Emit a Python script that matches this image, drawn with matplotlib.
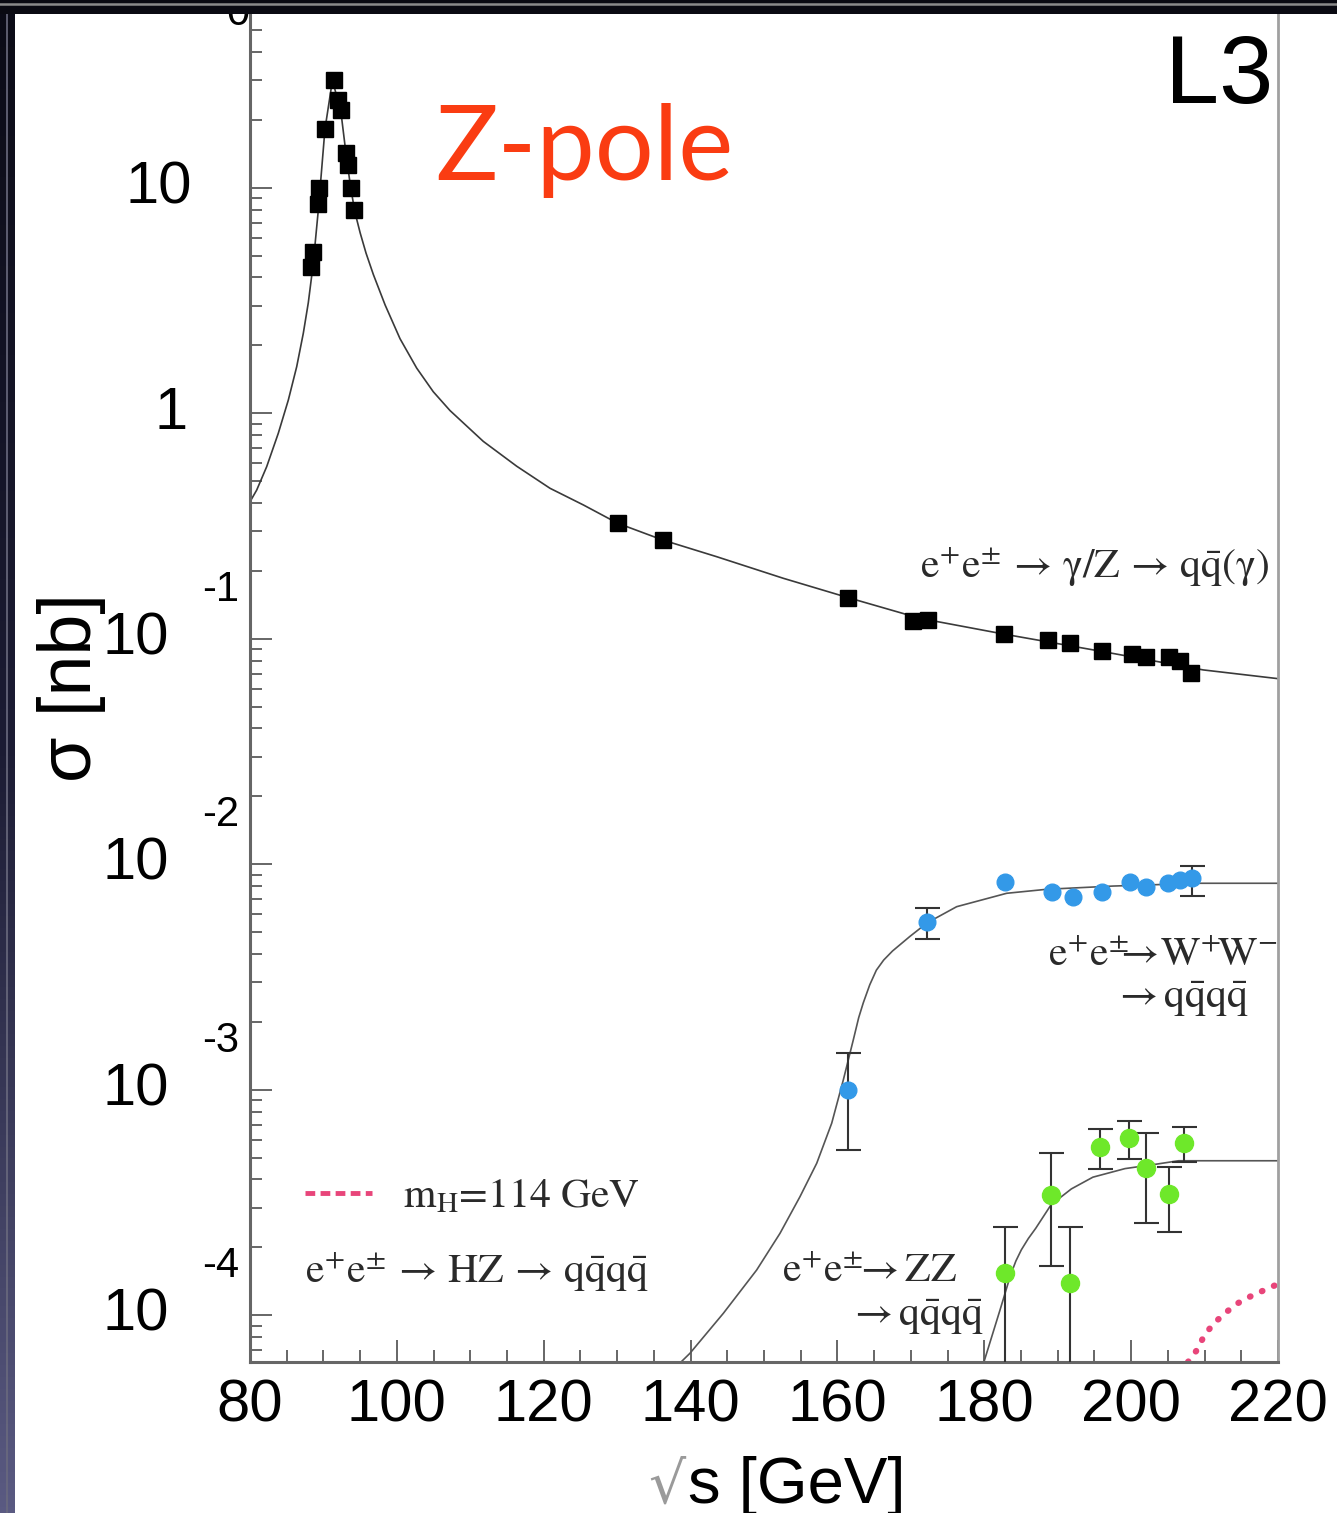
import numpy as np
import matplotlib
matplotlib.use("Agg")
import matplotlib.pyplot as plt
from matplotlib.patches import Rectangle
from matplotlib.lines import Line2D
from matplotlib.ticker import MultipleLocator, LogLocator, NullFormatter
from matplotlib.transforms import offset_copy

plt.rcParams["mathtext.fontset"] = "stix"
plt.rcParams["font.family"] = ["Liberation Sans", "DejaVu Sans"]

# --- data (sqrt(s) in GeV, sigma in nb) ---
# e+e- -> qq(gamma), black squares
qq_E = [88.31, 88.62, 89.30, 89.40, 90.21, 91.48, 91.94, 92.35, 93.07, 93.30, 93.71, 94.20,
        130.08, 136.2, 161.48, 170.33, 172.37, 182.72, 188.72, 191.67, 195.99, 200.07,
        202.02, 205.19, 206.65, 208.11]
qq_sig = [4.46, 5.17, 8.47, 10.0, 18.2, 30.0, 24.5, 22.1, 14.2, 12.6, 10.0, 7.96,
          0.325, 0.274, 0.152, 0.120, 0.121, 0.1046, 0.0987, 0.0954, 0.0882, 0.0853,
          0.0827, 0.0827, 0.0799, 0.0707]

# qq theory curve
qq_curve_E = [80.0, 80.91, 82.27, 83.85, 85.22, 86.36, 87.26, 87.94, 88.6, 89.30, 90.21,
              91.23, 91.94, 92.35, 93.07, 93.71, 94.30, 95.0, 95.8, 96.8, 98.4,
              100.43, 102.70, 104.96, 107.23, 111.77, 116.32, 120.86, 125.39, 130.08,
              136.2, 143.56, 152.63, 161.48, 171.24, 182.82, 196.2, 209.82, 220.0]
qq_curve_sig = [0.405, 0.456, 0.579, 0.814, 1.144, 1.608, 2.262, 3.09, 4.57, 7.94, 18.2,
                30.0, 24.5, 22.1, 14.2, 10.0, 7.76, 6.31, 5.13, 4.12, 3.02,
                2.14, 1.585, 1.245, 1.028, 0.750, 0.582, 0.4645, 0.392, 0.325,
                0.274, 0.231, 0.1853, 0.152, 0.1231, 0.1046, 0.0876, 0.0727, 0.0665]

# e+e- -> WW -> qqqq, blue circles
ww_E = [161.48, 172.24, 182.82, 189.18, 192.04, 195.99, 199.84, 202.02, 205.06, 206.65, 208.24]
ww_sig = [9.97e-4, 5.56e-3, 8.31e-3, 7.55e-3, 7.18e-3, 7.50e-3, 8.36e-3, 7.95e-3, 8.23e-3, 8.51e-3, 8.66e-3]
ww_lo = [5.40e-4, 4.64e-3, 8.31e-3, 7.55e-3, 7.18e-3, 7.50e-3, 8.36e-3, 7.95e-3, 8.23e-3, 8.51e-3, 7.23e-3]
ww_hi = [1.45e-3, 6.37e-3, 8.31e-3, 7.55e-3, 7.18e-3, 7.50e-3, 8.36e-3, 7.95e-3, 8.23e-3, 8.51e-3, 9.82e-3]

ww_curve_E = [138.70, 139.92, 144.46, 149.0, 152.18, 154.90, 157.18, 159.22, 160.80, 162.16,
              162.9, 163.52, 164.4, 165.3, 166.3, 167.5, 169.88, 172.24, 176.24, 183.05,
              188.50, 197.57, 209.37, 220.0]
ww_curve_sig = [6.20e-5, 6.78e-5, 1.019e-4, 1.586e-4, 2.307e-4, 3.354e-4, 4.717e-4, 7.10e-4,
                1.104e-3, 1.662e-3, 2.089e-3, 2.427e-3, 2.917e-3, 3.388e-3, 3.758e-3, 4.121e-3,
                4.786e-3, 5.50e-3, 6.48e-3, 7.43e-3, 7.74e-3, 8.00e-3, 8.23e-3, 8.23e-3]

# e+e- -> ZZ -> qqqq, green circles
zz_E = [182.87, 189.10, 191.73, 195.76, 199.75, 201.98, 205.10, 207.18]
zz_sig = [1.534e-4, 3.41e-4, 1.393e-4, 5.59e-4, 6.09e-4, 4.48e-4, 3.45e-4, 5.82e-4]
zz_lo = [1e-5, 1.658e-4, 1e-5, 4.45e-4, 4.91e-4, 2.57e-4, 2.33e-4, 4.79e-4]
zz_hi = [2.47e-4, 5.23e-4, 2.47e-4, 6.67e-4, 7.29e-4, 6.41e-4, 4.56e-4, 6.85e-4]

zz_curve_E = [179.95, 182.14, 183.60, 184.3, 185.05, 186.0, 187.0, 189.1, 191.86, 194.79,
              199.16, 203.53, 206.46, 220.0]
zz_curve_sig = [6.2e-5, 1.054e-4, 1.514e-4, 1.738e-4, 1.950e-4, 2.188e-4, 2.427e-4, 3.09e-4,
                3.631e-4, 4.093e-4, 4.467e-4, 4.68e-4, 4.84e-4, 4.84e-4]

# HZ, mH = 114 GeV, dotted
hz_curve_E = [207.74, 209.13, 209.86, 211.17, 212.78, 214.33, 216.18, 217.98, 220.0]
hz_curve_sig = [6.2e-5, 7.13e-5, 8.03e-5, 9.14e-5, 1.020e-4, 1.121e-4, 1.208e-4, 1.285e-4, 1.375e-4]

x_ticks = [80, 100, 120, 140, 160, 180, 200, 220]
y_exponents = [1, 0, -1, -2, -3, -4]

W, H = 1337, 1513
fig = plt.figure(figsize=(W / 100, H / 100), dpi=100)
fig.patch.set_facecolor("white")

ax = fig.add_axes([250 / W, (H - 1362) / H, (1278 - 250) / W, (1362 - 14) / H])
ax.set_yscale("log")
ax.set_xlim(80, 220)
ax.set_ylim(6.2e-5, 58.93)

higgs_col = "#e8457a"

# curves
ax.plot(qq_curve_E, qq_curve_sig, color="#3a3a3a", lw=1.2, zorder=2)
ax.plot(ww_curve_E, ww_curve_sig, color="#555555", lw=1.2, zorder=2)
ax.plot(zz_curve_E, zz_curve_sig, color="#555555", lw=1.2, zorder=2)
ax.plot(hz_curve_E, hz_curve_sig, color=higgs_col, lw=4.5,
        linestyle=(0, (0.1, 2.0)), dash_capstyle="round", zorder=2)

# data points
ax.plot(qq_E, qq_sig, "s", color="black", ms=12, zorder=4)


def points_with_bars(E, sig, lo, hi, color, ms):
    E, sig, lo, hi = map(np.asarray, (E, sig, lo, hi))
    has_bar = (hi - lo) > 0
    ax.errorbar(E[has_bar], sig[has_bar], yerr=[sig[has_bar] - lo[has_bar], hi[has_bar] - sig[has_bar]],
                fmt="none", ecolor="#333333", elinewidth=1.5, capsize=9, capthick=1.5, zorder=3)
    ax.plot(E, sig, "o", color=color, ms=ms, mec=color, zorder=4)


points_with_bars(ww_E, ww_sig, ww_lo, ww_hi, "#3399e8", 12)
points_with_bars(zz_E, zz_sig, zz_lo, zz_hi, "#6ee82a", 13)

# axes styling
for side in ["left", "bottom"]:
    ax.spines[side].set_color("#666666")
    ax.spines[side].set_linewidth(2.2)
ax.spines["right"].set_color("#a0a0a0")
ax.spines["right"].set_linewidth(2.0)
ax.spines["top"].set_visible(False)

ax.xaxis.set_major_locator(MultipleLocator(20))
ax.xaxis.set_minor_locator(MultipleLocator(5))
ax.yaxis.set_major_locator(LogLocator(base=10, numticks=20))
ax.yaxis.set_minor_locator(LogLocator(base=10, subs=np.arange(2, 10), numticks=20))
ax.yaxis.set_major_formatter(NullFormatter())
ax.yaxis.set_minor_formatter(NullFormatter())
ax.tick_params(which="both", direction="in", color="#666666", width=1.4,
               top=False, right=False)
ax.tick_params(which="major", length=16)
ax.tick_params(which="minor", length=8.5)
ax.set_xticks(x_ticks)
ax.set_xticklabels([str(v) for v in x_ticks])
ax.tick_params(axis="x", labelsize=43, pad=12)

# ROOT style y labels: 10 with a detached exponent
ytr = ax.get_yaxis_transform()
for k in y_exponents:
    if k == 1:
        ax.text(0, 10.0 ** k, "10", transform=offset_copy(ytr, fig=fig, x=-58, y=0, units="dots"),
                ha="right", va="center", fontsize=43)
    elif k == 0:
        ax.text(0, 10.0 ** k, "1", transform=offset_copy(ytr, fig=fig, x=-62, y=0, units="dots"),
                ha="right", va="center", fontsize=43)
    else:
        ax.text(0, 10.0 ** k, "10", transform=offset_copy(ytr, fig=fig, x=-81, y=0, units="dots"),
                ha="right", va="center", fontsize=43)
        ax.text(0, 10.0 ** k, str(k), transform=offset_copy(ytr, fig=fig, x=-11, y=49, units="dots"),
                ha="right", va="center", fontsize=30)

# annotations
tc = "#2a2a2a"
fs = 30
ax.text(171.2, 0.186, r"$\mathrm{e^{+}e^{\pm}\,\rightarrow\,\gamma/Z\,\rightarrow\,q\bar{q}(\gamma)}$",
        fontsize=fs, color=tc, ha="left", va="baseline")
ax.text(188.7, 3.54e-3, r"$\mathrm{e^{+}e^{\pm}\!\!\!\rightarrow\! W^{+}\!W^{-}}$",
        fontsize=fs, color=tc, ha="left", va="baseline")
ax.text(197.5, 2.30e-3, r"$\mathrm{\rightarrow q\bar{q}q\bar{q}}$",
        fontsize=fs, color=tc, ha="left", va="baseline")
ax.text(152.45, 1.40e-4, r"$\mathrm{e^{+}e^{\pm}\!\!\rightarrow ZZ}$",
        fontsize=fs, color=tc, ha="left", va="baseline")
ax.text(161.44, 8.95e-5, r"$\mathrm{\rightarrow q\bar{q}q\bar{q}}$",
        fontsize=fs, color=tc, ha="left", va="baseline")
ax.text(87.49, 1.39e-4, r"$\mathrm{e^{+}e^{\pm}\,\rightarrow\,HZ\,\rightarrow\,q\bar{q}q\bar{q}}$",
        fontsize=fs, color=tc, ha="left", va="baseline")

# legend key is drawn dashed, as in the original
hz_key = Line2D([], [], color=higgs_col, lw=3.5, linestyle=(0, (2.0, 1.1)))
leg = ax.legend([hz_key], [r"m$_{\mathrm{H}}$=114 GeV"], loc="center left",
                bbox_to_anchor=(87.49, 3.34e-4), bbox_transform=ax.transData,
                frameon=False, prop={"family": "STIXGeneral", "size": fs},
                handlelength=1.6, handletextpad=0.75, borderpad=0, borderaxespad=0)
for t in leg.get_texts():
    t.set_color(tc)

ax.text(219.3, 23.7, "L3", fontsize=70, ha="right", va="baseline", color="black")
ax.text(105.2, 10.8, "Z-pole", fontsize=75, ha="left", va="baseline", color="#fa3c12",
        family=["Lato", "DejaVu Sans"])

# axis titles
fig.text(72 / W, 1 - 688 / H, "σ [nb]", rotation=90, ha="center", va="center", fontsize=53)
fig.text(688 / W, 1 - 1503 / H, "s [GeV]", ha="left", va="baseline", fontsize=47)
fig.text(648 / W, 1 - 1503 / H, "√", ha="left", va="baseline", fontsize=42, color="#9a9a9a",
         family=["DejaVu Sans"])
# bottom of a cut-off label at the very top
fig.text(238 / W, 1 - 25 / H, "0", ha="center", va="baseline", fontsize=30)

# slide frame: dark band on top and gradient strip on the left
fig.patches.append(Rectangle((0, 1 - 14 / H), 1, 14 / H, transform=fig.transFigure,
                             facecolor="#0a0a12", edgecolor="none", zorder=20))
fig.lines.append(Line2D([0, 1], [1 - 4 / H, 1 - 4 / H], transform=fig.transFigure,
                        color="#8a8a8a", lw=1.8, zorder=21))
strip = fig.add_axes([0, 0, 15 / W, 1], zorder=20)
grad = np.linspace(0, 1, 256).reshape(-1, 1)
cmap = matplotlib.colors.LinearSegmentedColormap.from_list("strip", ["#0b0b16", "#1c1c34", "#5a5a82"])
strip.imshow(grad, aspect="auto", cmap=cmap, extent=[0, 1, 0, 1], origin="upper")
strip.axvline(0.45, color="#6a6a7e", lw=1.2)
strip.set_axis_off()

fig.savefig("out.png", dpi=100, facecolor=fig.get_facecolor())
